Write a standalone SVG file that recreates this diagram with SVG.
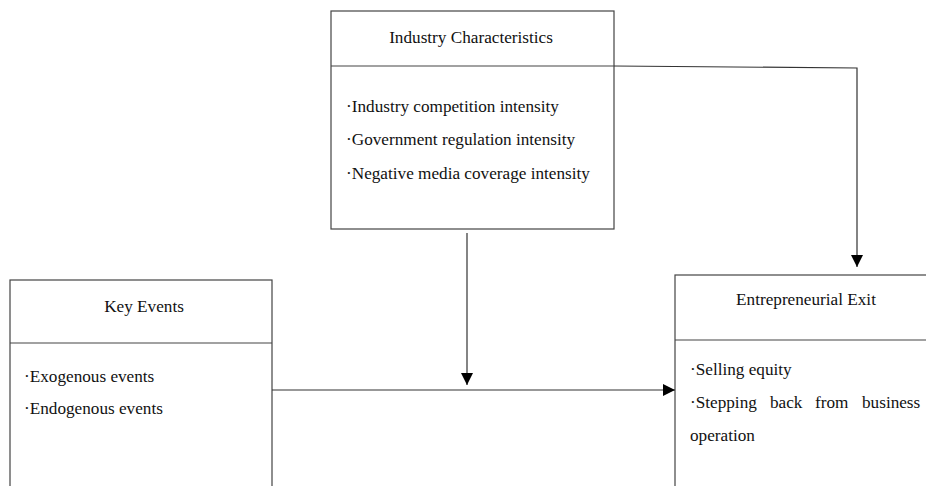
<svg xmlns="http://www.w3.org/2000/svg" width="926" height="486" viewBox="0 0 926 486">
<style>
.box{fill:#fff;stroke:#444;stroke-width:1.2}
.div{stroke:#444;stroke-width:1.2}
.conn{fill:none;stroke:#333;stroke-width:1.2}
text{font-family:'Liberation Serif','Times New Roman','DejaVu Serif',serif;font-size:17.2px;fill:#111}
.t{text-anchor:middle}
</style>
<defs>
<marker id="ah" viewBox="0 0 12 12" refX="12" refY="6" markerWidth="12" markerHeight="12" markerUnits="userSpaceOnUse" orient="auto">
<path d="M0,0 L12,6 L0,12 Z" fill="#000"/>
</marker>
</defs>
<rect width="926" height="486" fill="#fff"/>
<g id="industry">
<rect class="box" x="331" y="11" width="283" height="218"/>
<line class="div" x1="331" y1="66" x2="614" y2="66"/>
<text class="t" x="471" y="43">Industry Characteristics</text>
<text x="346" y="112">·Industry competition intensity</text>
<text x="346" y="145">·Government regulation intensity</text>
<text x="346" y="179">·Negative media coverage intensity</text>
</g>
<g id="keyevents">
<rect class="box" x="10" y="280" width="262" height="220"/>
<line class="div" x1="10" y1="343" x2="272" y2="343"/>
<text class="t" x="144" y="312">Key Events</text>
<text x="24" y="382">·Exogenous events</text>
<text x="24" y="414">·Endogenous events</text>
</g>
<g id="exit">
<rect class="box" x="675" y="275" width="270" height="230"/>
<line class="div" x1="675" y1="340" x2="926" y2="340"/>
<text class="t" x="806" y="305">Entrepreneurial Exit</text>
<text x="690" y="375">·Selling equity</text>
<text y="408"><tspan x="690">·Stepping</tspan><tspan x="770">back</tspan><tspan x="815">from</tspan><tspan x="862">business</tspan></text>
<text x="690" y="441">operation</text>
</g>
<g id="connectors">
<polyline class="conn" points="614,66 857,68 857,267" marker-end="url(#ah)"/>
<line class="conn" x1="467" y1="233" x2="467" y2="385" marker-end="url(#ah)"/>
<line class="conn" x1="272" y1="390" x2="675" y2="390" marker-end="url(#ah)"/>
</g>
</svg>
